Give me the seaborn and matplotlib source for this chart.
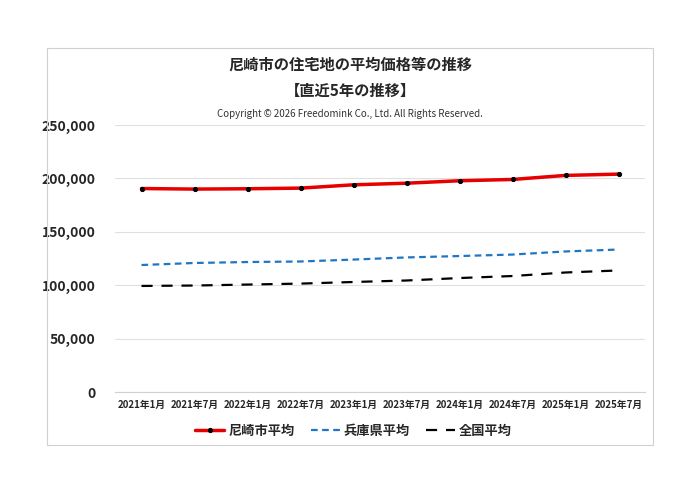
import matplotlib
matplotlib.use("Agg")
import matplotlib.pyplot as plt
import seaborn as sns
import pandas as pd
from matplotlib.patches import Rectangle
from matplotlib.ticker import FuncFormatter

periods = ["2021年1月","2021年7月","2022年1月","2022年7月","2023年1月","2023年7月","2024年1月","2024年7月","2025年1月","2025年7月"]
amagasaki = [190500,190000,190300,190900,194000,195500,197800,199000,202800,204000]
hyogo = [118900,120800,121700,122200,124000,126000,127300,128700,131600,133400]
national = [99300,99700,100600,101500,103000,104400,106700,108600,111900,113800]

sns.set_style("white")
plt.rcParams['font.family'] = ['Noto Sans CJK JP', 'DejaVu Sans']

fig = plt.figure(figsize=(7, 4.95), dpi=100)
fig.patches.append(Rectangle((47/700, 1-445/495), 606/700, 397/495, transform=fig.transFigure,
                             fill=False, edgecolor="#d0d0d0", lw=0.8))
ax = fig.add_axes([115/700, 1-392/495, 530/700, 267/495])

df = pd.DataFrame({"period": periods * 3,
                   "value": amagasaki + hyogo + national,
                   "series": ["尼崎市平均"]*10 + ["兵庫県平均"]*10 + ["全国平均"]*10})
sns.lineplot(data=df[df.series=="尼崎市平均"], x="period", y="value", ax=ax, color="#e60000",
             lw=2.5, marker="o", markersize=3, markerfacecolor="black", markeredgecolor="black",
             label="尼崎市平均", sort=False)
sns.lineplot(data=df[df.series=="兵庫県平均"], x="period", y="value", ax=ax, color="#1f77c4",
             lw=1.6, linestyle=(0, (3, 2)), label="兵庫県平均", sort=False)
sns.lineplot(data=df[df.series=="全国平均"], x="period", y="value", ax=ax, color="black",
             lw=1.6, linestyle=(0, (5, 4)), label="全国平均", sort=False)

ax.set_ylim(0, 250000)
ax.set_xlim(-0.5, 9.5)
ax.set_yticks(range(0, 250001, 50000))
ax.yaxis.set_major_formatter(FuncFormatter(lambda v, p: f"{int(v):,}"))
ax.grid(axis="y", color="#e0e0e0", lw=0.8)
for s in ["top", "right", "left"]:
    ax.spines[s].set_visible(False)
ax.spines["bottom"].set_color("#d0d0d0")
ax.set_xlabel(""); ax.set_ylabel("")
ax.tick_params(axis="y", labelsize=10, length=0, pad=14)
ax.tick_params(axis="x", labelsize=7, length=0, pad=6)
for t in ax.get_yticklabels() + ax.get_xticklabels():
    t.set_fontweight("bold")

leg = ax.legend(loc="upper center", bbox_to_anchor=(0.45, -0.075), ncol=3, frameon=False,
                prop={"weight": "bold", "size": 9.5}, handlelength=2.2, handletextpad=0.3,
                columnspacing=1.2)

fig.text(0.5, 1-65/495, "尼崎市の住宅地の平均価格等の推移", ha="center", va="center", fontsize=11, fontweight="bold")
fig.text(0.5, 1-91/495, "【直近5年の推移】", ha="center", va="center", fontsize=11, fontweight="bold")
fig.text(0.5, 1-114/495, "Copyright © 2026 Freedomink Co., Ltd. All Rights Reserved.", ha="center", va="center",
         fontsize=7, color="#333333")

fig.savefig("out.png", dpi=100, facecolor="white")
